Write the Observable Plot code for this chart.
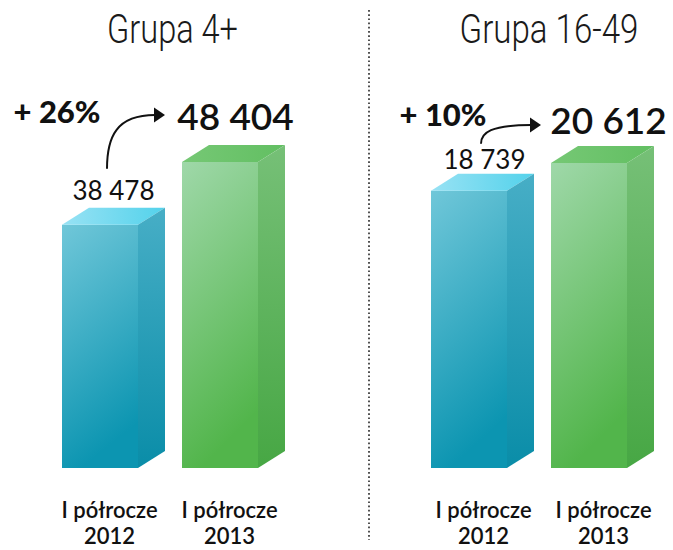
<!DOCTYPE html>
<html>
<head>
<meta charset="utf-8">
<script src="https://cdn.jsdelivr.net/npm/d3@7"></script>
<script src="https://cdn.jsdelivr.net/npm/@observablehq/plot@0.6"></script>
<style>
  html, body { margin: 0; padding: 0; background: #fff; }
  #wrap { display: flex; width: 673px; height: 550px; overflow: hidden; }
  #wrap svg { display: block; flex: none; }
</style>
</head>
<body>
<div id="wrap"></div>
<script>
// ---- data ----
const categories = ["I półrocze\n2012", "I półrocze\n2013"];
const groupTitles = ["Grupa 4+", "Grupa 16-49"];
const valuesGroup4 = [38478, 48404];
const valuesGroup1649 = [18739, 20612];
const labelsGroup4 = ["38 478", "48 404"];
const labelsGroup1649 = ["18 739", "20 612"];
const changeLabels = ["+ 26%", "+ 10%"];

// ---- styling ----
const DEPTH_X = 27, DEPTH_Y = 17;
const colors = {
  blue: {front: ["#70c7d9", "#0c95b1"], top: ["#98e2f4", "#53d2eb"], side: ["#47aec6", "#0a8da8"]},
  green: {front: ["#9fd8a9", "#52b54b"], top: ["#76c875", "#62bf62"], side: ["#76c077", "#47a744"]}
};
const numFont = "Lato, 'Noto Sans', sans-serif";
const titleFont = "Roboto, 'Liberation Sans', sans-serif";

function panel(cfg) {
  const rows = categories.map((c, i) => ({cat: c, value: cfg.values[i], label: cfg.labels[i], i}));
  const pre = cfg.id;

  const defs = () => {
    const d = d3.create("svg:defs");
    for (const name of ["blue", "green"]) {
      const c = colors[name];
      const f = d.append("linearGradient").attr("id", `${pre}-${name}-front`)
        .attr("x1", 0).attr("y1", 0).attr("x2", 0.25).attr("y2", 1);
      f.append("stop").attr("offset", 0).attr("stop-color", c.front[0]);
      f.append("stop").attr("offset", 1).attr("stop-color", c.front[1]);
      const t = d.append("linearGradient").attr("id", `${pre}-${name}-top`)
        .attr("x1", 0).attr("y1", 0).attr("x2", 1).attr("y2", 0);
      t.append("stop").attr("offset", 0).attr("stop-color", c.top[0]);
      t.append("stop").attr("offset", 1).attr("stop-color", c.top[1]);
      const s = d.append("linearGradient").attr("id", `${pre}-${name}-side`)
        .attr("x1", 0).attr("y1", 0).attr("x2", 0).attr("y2", 1);
      s.append("stop").attr("offset", 0).attr("stop-color", c.side[0]);
      s.append("stop").attr("offset", 1).attr("stop-color", c.side[1]);
    }
    return d.node();
  };

  const faces = (index, scales, values, dims) => {
    const {x, y} = scales;
    const bw = typeof x.bandwidth === "function" ? x.bandwidth() : x.bandwidth;
    const g = d3.create("svg:g");
    if (cfg.divider) {
      g.append("line").attr("x1", 1).attr("x2", 1).attr("y1", 10).attr("y2", dims.height - 10)
        .attr("stroke", "#333").attr("stroke-width", 1.7).attr("stroke-dasharray", "1.7,2.5");
    }
    rows.forEach((d) => {
      const name = d.i === 0 ? "blue" : "green";
      const x0 = x(d.cat), x1 = x0 + bw, yt = y(d.value), yb = y(0);
      g.append("path")
        .attr("d", `M${x0},${yt}L${x0 + DEPTH_X},${yt - DEPTH_Y}L${x1 + DEPTH_X},${yt - DEPTH_Y}L${x1},${yt}Z`)
        .attr("fill", `url(#${pre}-${name}-top)`);
      g.append("path")
        .attr("d", `M${x1},${yt}L${x1 + DEPTH_X},${yt - DEPTH_Y}L${x1 + DEPTH_X},${yb - DEPTH_Y}L${x1},${yb}Z`)
        .attr("fill", `url(#${pre}-${name}-side)`);
    });
    // growth arrow
    const a = rows[0], b = rows[1];
    const sx = x(a.cat) + bw / 2 + cfg.arrowStart[0];
    const sy = y(a.value) + cfg.arrowStart[1];
    const tx = x(b.cat) + cfg.arrowTip[0];
    const ty = y(b.value) + cfg.arrowTip[1];
    const ex = tx - 10;
    g.append("path")
      .attr("d", `M${sx},${sy}C${sx},${sy - (sy - ty) * 0.6} ${sx + (ex - sx) * 0.2},${ty} ${ex},${ty}`)
      .attr("fill", "none").attr("stroke", "#111").attr("stroke-width", 2);
    g.append("path")
      .attr("d", `M${tx},${ty}L${tx - 11},${ty - 7.5}L${tx - 11},${ty + 7.5}Z`)
      .attr("fill", "#111");
    return g.node();
  };

  return Plot.plot({
    width: cfg.width,
    height: 550,
    marginLeft: 62,
    marginRight: cfg.marginRight,
    marginTop: cfg.marginTop,
    marginBottom: 82,
    style: {background: "transparent", overflow: "visible"},
    x: {domain: categories, paddingInner: 0.367, paddingOuter: 0, axis: null},
    y: {domain: [0, d3.max(cfg.values)], axis: null},
    marks: [
      defs,
      Plot.barY(rows.filter(d => d.i === 0), {x: "cat", y: "value", fill: `url(#${pre}-blue-front)`}),
      Plot.barY(rows.filter(d => d.i === 1), {x: "cat", y: "value", fill: `url(#${pre}-green-front)`}),
      faces,
      // title
      Plot.text([cfg.title], {
        text: d => d, frameAnchor: "top", dx: cfg.titleDx, dy: 42 - cfg.marginTop, lineAnchor: "bottom",
        fontFamily: titleFont, fontSize: 40, fontWeight: 300, fill: "#1a1a1a"
      }),
      // value labels
      Plot.text(rows.filter(d => d.i === 0), {
        x: "cat", y: "value", text: "label", dx: cfg.labelDx[0], dy: cfg.labelDy[0], lineAnchor: "bottom",
        fontFamily: numFont, fontSize: 26, fontWeight: 400, fill: "#111"
      }),
      Plot.text(rows.filter(d => d.i === 1), {
        x: "cat", y: "value", text: "label", dx: cfg.labelDx[1], dy: cfg.labelDy[1], lineAnchor: "bottom",
        fontFamily: numFont, fontSize: 37, fontWeight: 600, fill: "#111"
      }),
      // change label
      Plot.text([{cat: categories[0], value: cfg.values[1], text: cfg.change}], {
        x: "cat", y: "value", text: "text", textAnchor: "end", dx: cfg.changeDx, dy: cfg.changeDy,
        lineAnchor: "bottom", fontFamily: numFont, fontSize: 31, fontWeight: 900, fill: "#111"
      }),
      // category labels
      Plot.text(rows, {
        x: "cat", y: () => 0, text: "cat", dx: cfg.catDx, dy: 31, lineAnchor: "top", lineHeight: 1.17,
        fontFamily: numFont, fontSize: 22, fontWeight: 600, fill: "#111"
      })
    ]
  });
}

const panels = [
  {
    id: "g4", title: groupTitles[0], values: valuesGroup4, labels: labelsGroup4, change: changeLabels[0],
    width: 368, marginRight: 110, marginTop: 162, titleWidth: 131,
    titleDx: 12, labelDx: [13, 15], labelDy: [-25, -33], changeDx: 0, changeDy: -40,
    arrowStart: [7, -56], arrowTip: [-17, -47], catDx: 9, divider: false
  },
  {
    id: "g1649", title: groupTitles[1], values: valuesGroup1649, labels: labelsGroup1649, change: changeLabels[1],
    width: 305, marginRight: 46, marginTop: 163, titleWidth: 179,
    titleDx: 20, labelDx: [15, 19], labelDy: [-22, -30], changeDx: 17, changeDy: -38,
    arrowStart: [12, -47], arrowTip: [-10, -38], catDx: 14, divider: true
  }
];

const wrap = document.getElementById("wrap");
for (const cfg of panels) {
  const svg = panel(cfg);
  wrap.append(svg);
  // condense the title horizontally (narrow face in the reference)
  d3.select(svg).selectAll("text").filter(function() { return this.textContent === cfg.title; })
    .each(function() {
      const w = this.getComputedTextLength();
      const t = this.getAttribute("transform") || "";
      if (w > 0) this.setAttribute("transform", `${t} scale(${cfg.titleWidth / w},1)`);
    });
}
</script>
</body>
</html>
